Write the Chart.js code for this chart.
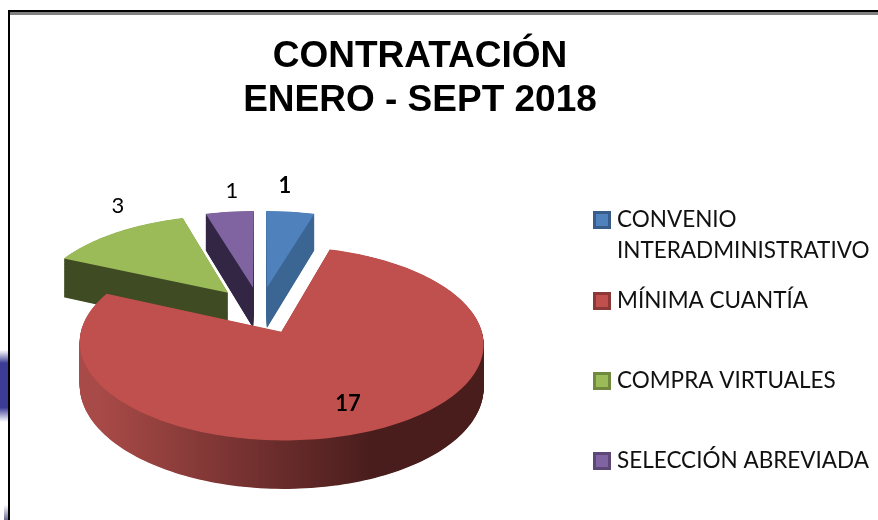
<!DOCTYPE html>
<html><head><meta charset="utf-8">
<style>html,body{margin:0;padding:0;background:#fff}#wrap{width:878px;height:520px}</style>
<script src="https://cdn.jsdelivr.net/npm/chart.js@4/dist/chart.umd.min.js"></script>
</head><body><div id="wrap"><canvas id="c" width="878" height="520"></canvas></div>
<script>
const categories = [['CONVENIO','INTERADMINISTRATIVO'],'MÍNIMA CUANTÍA','COMPRA VIRTUALES','SELECCIÓN ABREVIADA'];
const values = [1,17,3,1];
const titleLines = ['CONTRATACIÓN','ENERO - SEPT 2018'];
const topColors = ['#4f81bd','#c0504d','#9bbb59','#8064a2'];
const borderColors = ['#385d8a','#8c3836','#71893f','#5c4776'];
const wallColors = [['#3b6593','#3b6593'],['#a84a47','#4a1d1d'],['#3f4b22','#3f4b22'],['#332644','#332644']];
const labelAnchors = [[285,186],[348,404],[118,206],[232,191]];
const labelWeights = ['bold','bold','normal','normal'];
const legendRows = [220,301,381,461];

// 3D projection of the pie plane
const PIE = {x:260,y:310,r:195,explode:50,q:.464,p:.0006,depth:41.5};
function proj(a,b,h){const w=1+PIE.p*b;return [PIE.x+a/w,PIE.y+(h-PIE.q*b)/w];}
function slicePts(arc,h){
  const s=arc.startAngle+Math.PI/2,e=arc.endAngle+Math.PI/2,m=(s+e)/2;
  const ox=Math.sin(m)*PIE.explode,oy=Math.cos(m)*PIE.explode;
  const pts=[proj(ox,oy,h)],n=Math.max(8,Math.ceil((e-s)*40));
  for(let i=0;i<=n;i++){const t=s+(e-s)*i/n;pts.push(proj(ox+Math.sin(t)*PIE.r,oy+Math.cos(t)*PIE.r,h));}
  return pts;
}
function poly(ctx,pts){ctx.beginPath();pts.forEach((p,i)=>i?ctx.lineTo(p[0],p[1]):ctx.moveTo(p[0],p[1]));ctx.closePath();}

const pie3d={id:'pie3d',
  beforeDraw(chart){
    const ctx=chart.ctx;ctx.save();
    ctx.fillStyle='#808080';ctx.fillRect(10,12,868,3);
    ctx.fillStyle='#000';ctx.fillRect(8,10,870,2);ctx.fillRect(8,10,2,510);
    const g=ctx.createLinearGradient(0,350,0,422);
    g.addColorStop(0,'rgba(70,70,160,0)');g.addColorStop(.18,'#3c3c96');g.addColorStop(.8,'#3c3c96');g.addColorStop(1,'rgba(70,70,160,0)');
    ctx.fillStyle=g;ctx.fillRect(0,350,8,72);
    const g2=ctx.createLinearGradient(0,505,0,520);
    g2.addColorStop(0,'rgba(70,70,120,0)');g2.addColorStop(1,'rgba(70,70,120,.8)');
    ctx.fillStyle=g2;ctx.fillRect(4,505,4,15);
    ctx.restore();
  },
  beforeDatasetsDraw(chart){
    const ctx=chart.ctx,arcs=chart.getDatasetMeta(0).data;
    ctx.save();
    const order=[2,3,0,1];
    order.forEach(i=>{
      const gr=ctx.createLinearGradient(100,0,370,0);
      gr.addColorStop(0,wallColors[i][0]);gr.addColorStop(1,wallColors[i][1]);
      ctx.fillStyle=gr;
      for(let h=PIE.depth;h>0;h-=.5){poly(ctx,slicePts(arcs[i],h));ctx.fill();}
    });
    order.forEach(i=>{
      poly(ctx,slicePts(arcs[i],0));ctx.fillStyle=topColors[i];ctx.fill();
    });
    ctx.restore();
    return false;
  },
  afterDraw(chart){
    const ctx=chart.ctx;ctx.save();
    ctx.textBaseline='middle';ctx.textAlign='center';ctx.fillStyle='#000';
    values.forEach((v,i)=>{ctx.font=labelWeights[i]+' 22px Lato';ctx.fillText(String(v),labelAnchors[i][0],labelAnchors[i][1]);});
    ctx.textAlign='left';ctx.font='22.5px Lato';
    categories.forEach((c,i)=>{
      const y=legendRows[i];
      ctx.fillStyle=borderColors[i];ctx.fillRect(593,y-9,18,18);
      ctx.fillStyle=topColors[i];ctx.fillRect(596,y-6,12,12);
      ctx.fillStyle='#111';
      [].concat(c).forEach((line,k)=>ctx.fillText(line,617,y+k*31));
    });
    ctx.restore();
  }};

new Chart(document.getElementById('c'),{
  type:'pie',
  data:{labels:categories,datasets:[{data:values,backgroundColor:topColors,borderWidth:0}]},
  options:{responsive:false,animation:false,
    layout:{padding:{right:38,top:35}},
    plugins:{legend:{display:false},tooltip:{enabled:false},
      title:{display:true,text:titleLines,color:'#000',padding:0,
        font:{family:'"Liberation Sans"',size:37,weight:'bold',lineHeight:1.19}}}},
  plugins:[pie3d]});
</script></body></html>
